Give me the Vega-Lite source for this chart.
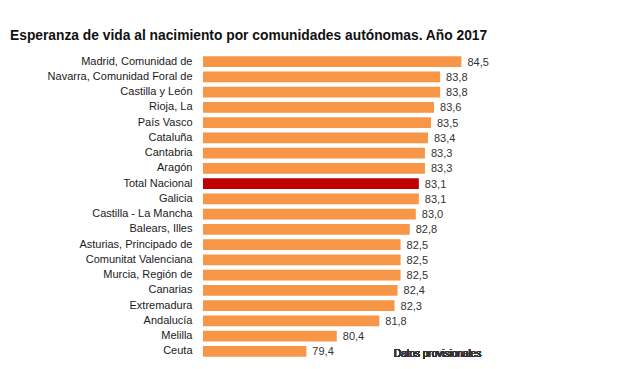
{
  "$schema": "https://vega.github.io/schema/vega-lite/v6.json",
  "autosize": {"type": "none"},
  "padding": {"left": 203, "top": 54, "right": 123, "bottom": 10},
  "width": 304,
  "height": 305,
  "background": "white",
  "title": {
    "text": "Esperanza de vida al nacimiento por comunidades autónomas. Año 2017",
    "anchor": "start",
    "frame": "group",
    "dx": -193,
    "offset": 11,
    "font": "Liberation Sans",
    "fontSize": 13.8,
    "fontWeight": "bold",
    "color": "#111111"
  },
  "config": {
    "view": {"stroke": null},
    "locale": {"number": {"decimal": ",", "thousands": ".", "grouping": [3], "currency": ["", " €"]}}
  },
  "data": {
    "values": [
      {"ccaa": "Madrid, Comunidad de", "valor": 84.5, "tipo": "ccaa"},
      {"ccaa": "Navarra, Comunidad Foral de", "valor": 83.8, "tipo": "ccaa"},
      {"ccaa": "Castilla y León", "valor": 83.8, "tipo": "ccaa"},
      {"ccaa": "Rioja, La", "valor": 83.6, "tipo": "ccaa"},
      {"ccaa": "País Vasco", "valor": 83.5, "tipo": "ccaa"},
      {"ccaa": "Cataluña", "valor": 83.4, "tipo": "ccaa"},
      {"ccaa": "Cantabria", "valor": 83.3, "tipo": "ccaa"},
      {"ccaa": "Aragón", "valor": 83.3, "tipo": "ccaa"},
      {"ccaa": "Total Nacional", "valor": 83.1, "tipo": "total"},
      {"ccaa": "Galicia", "valor": 83.1, "tipo": "ccaa"},
      {"ccaa": "Castilla - La Mancha", "valor": 83.0, "tipo": "ccaa"},
      {"ccaa": "Balears, Illes", "valor": 82.8, "tipo": "ccaa"},
      {"ccaa": "Asturias, Principado de", "valor": 82.5, "tipo": "ccaa"},
      {"ccaa": "Comunitat Valenciana", "valor": 82.5, "tipo": "ccaa"},
      {"ccaa": "Murcia, Región de", "valor": 82.5, "tipo": "ccaa"},
      {"ccaa": "Canarias", "valor": 82.4, "tipo": "ccaa"},
      {"ccaa": "Extremadura", "valor": 82.3, "tipo": "ccaa"},
      {"ccaa": "Andalucía", "valor": 81.8, "tipo": "ccaa"},
      {"ccaa": "Melilla", "valor": 80.4, "tipo": "ccaa"},
      {"ccaa": "Ceuta", "valor": 79.4, "tipo": "ccaa"}
    ]
  },
  "encoding": {
    "y": {
      "field": "ccaa",
      "type": "nominal",
      "sort": null,
      "scale": {"paddingInner": 0.3, "paddingOuter": 0.15},
      "axis": {
        "title": null,
        "domain": false,
        "ticks": false,
        "labelPadding": 11,
        "labelFont": "Liberation Sans",
        "labelFontSize": 11,
        "labelColor": "#1a1a1a"
      }
    },
    "x": {
      "field": "valor",
      "type": "quantitative",
      "scale": {"domain": [76, 86], "zero": false, "nice": false},
      "axis": null
    }
  },
  "layer": [
    {
      "mark": {"type": "bar"},
      "encoding": {
        "x2": {"datum": 76},
        "color": {
          "field": "tipo",
          "type": "nominal",
          "scale": {"domain": ["ccaa", "total"], "range": ["#F79646", "#C00000"]},
          "legend": null
        }
      }
    },
    {
      "mark": {"type": "text", "align": "left", "dx": 6, "dy": 1, "font": "Liberation Sans", "fontSize": 11, "color": "#333333"},
      "encoding": {
        "text": {"field": "valor", "type": "quantitative", "format": ".1f"}
      }
    },
    {
      "mark": {"type": "text", "align": "left", "dy": 3, "font": "Liberation Sans", "fontSize": 10, "color": "#333333"},
      "encoding": {
        "x": {"datum": 82.28},
        "y": {"datum": "Ceuta"},
        "text": {"value": "Datos provisionales"}
      }
    }
  ]
}
